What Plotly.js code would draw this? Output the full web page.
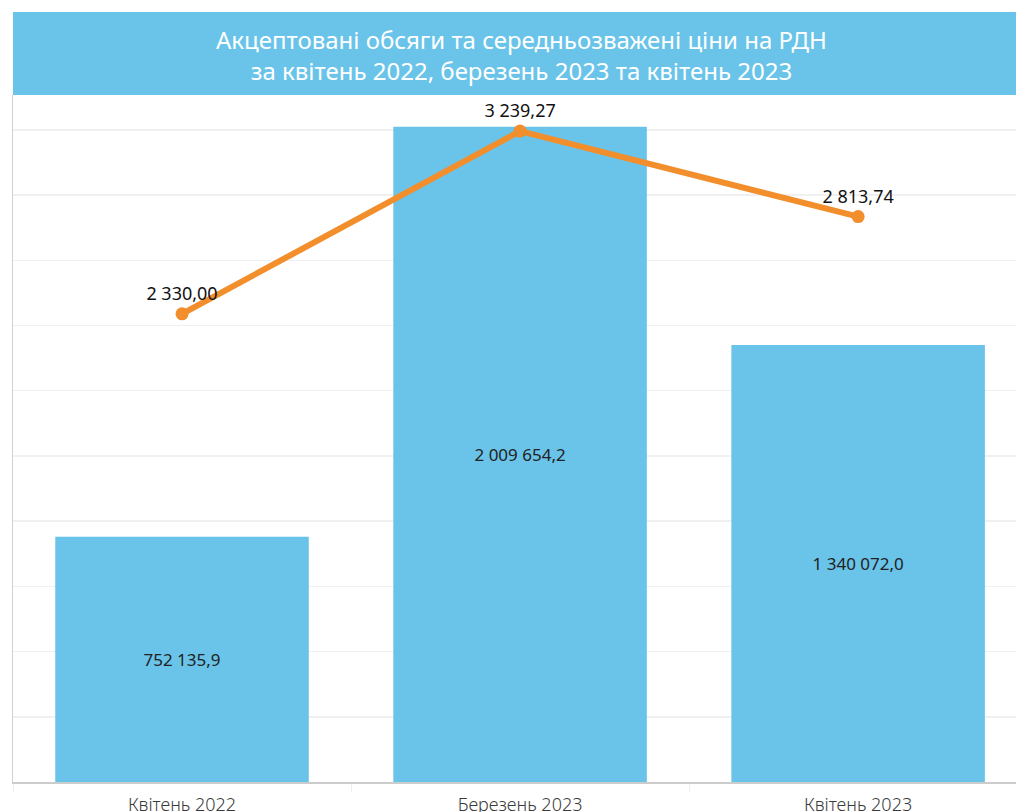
<!DOCTYPE html>
<html>
<head>
<meta charset="utf-8">
<script src="https://cdn.plot.ly/plotly-3.0.1.min.js"></script>
<style>
  html, body { margin: 0; padding: 0; background: #ffffff; }
  #chart { width: 1016px; height: 812px; }
</style>
</head>
<body>
<div id="chart"></div>
<script>
const categories = ["Квітень 2022", "Березень 2023", "Квітень 2023"];
const volumes = [752135.9, 2009654.2, 1340072.0];
const prices = [2330.00, 3239.27, 2813.74];
const volumeLabels = ["752 135,9", "2 009 654,2", "1 340 072,0"];
const priceLabels = ["2 330,00", "3 239,27", "2 813,74"];
const titleLines = ["Акцептовані обсяги та середньозважені ціни на РДН", "за квітень 2022, березень 2023 та квітень 2023"];

const FONT = "Noto Sans, Open Sans, sans-serif";
const BLUE = "#6AC4E9";
const ORANGE = "#F28E2B";

const bars = {
  type: "bar",
  x: categories,
  y: volumes,
  width: 0.75,
  marker: { color: BLUE },
  text: volumeLabels,
  textposition: "inside",
  insidetextanchor: "middle",
  textangle: 0,
  constraintext: "none",
  textfont: { family: FONT, size: 17, color: "#222222" },
  hoverinfo: "x+y",
  yaxis: "y",
  cliponaxis: false
};

const line = {
  type: "scatter",
  mode: "lines+markers+text",
  x: categories,
  y: prices,
  yaxis: "y2",
  line: { color: ORANGE, width: 6 },
  marker: { color: ORANGE, size: 13 },
  text: priceLabels,
  textposition: "top center",
  textfont: { family: FONT, size: 18, color: "#111111" },
  cliponaxis: false
};

const layout = {
  width: 1016,
  height: 812,
  margin: { l: 13, r: 0, t: 95, b: 30, pad: 0 },
  paper_bgcolor: "#ffffff",
  plot_bgcolor: "#ffffff",
  showlegend: false,
  font: { family: FONT, color: "#333333" },
  bargap: 0.25,
  xaxis: {
    type: "category",
    range: [-0.5, 2.467],
    showgrid: false,
    zeroline: false,
    showline: true,
    linecolor: "#cccccc",
    linewidth: 1.5,
    ticks: "outside",
    tickson: "boundaries",
    ticklen: 8,
    tickcolor: "#eeeeee",
    tickwidth: 1,
    ticklabelstandoff: 6,
    tickfont: { family: FONT, size: 18, color: "#3a3a3a", weight: 300 },
    fixedrange: true
  },
  yaxis: {
    range: [0, 2107000],
    dtick: 200000,
    showticklabels: false,
    showgrid: true,
    gridcolor: "#f0f0f0",
    gridwidth: 1.5,
    zeroline: false,
    showline: true,
    linecolor: "#d0d0d0",
    linewidth: 1.5,
    ticks: "",
    fixedrange: true
  },
  yaxis2: {
    overlaying: "y",
    side: "right",
    range: [0, 3419],
    showgrid: false,
    showticklabels: false,
    zeroline: false,
    showline: false,
    ticks: "",
    fixedrange: true
  },
  shapes: [{
    type: "rect",
    xref: "paper", yref: "paper",
    x0: 0, x1: 1,
    y0: 1, y1: 1 + (83 / 687),
    fillcolor: BLUE,
    line: { width: 0 },
    layer: "above"
  }],
  annotations: [{
    xref: "paper", yref: "paper",
    x: (521 - 13) / 1003,
    y: 1 + (40 / 687),
    xanchor: "center", yanchor: "middle",
    text: titleLines.join("<br>"),
    showarrow: false,
    align: "center",
    font: { family: FONT, size: 24, color: "#ffffff" }
  }]
};

Plotly.newPlot("chart", [bars, line], layout, { displayModeBar: false, staticPlot: true });
</script>
</body>
</html>
